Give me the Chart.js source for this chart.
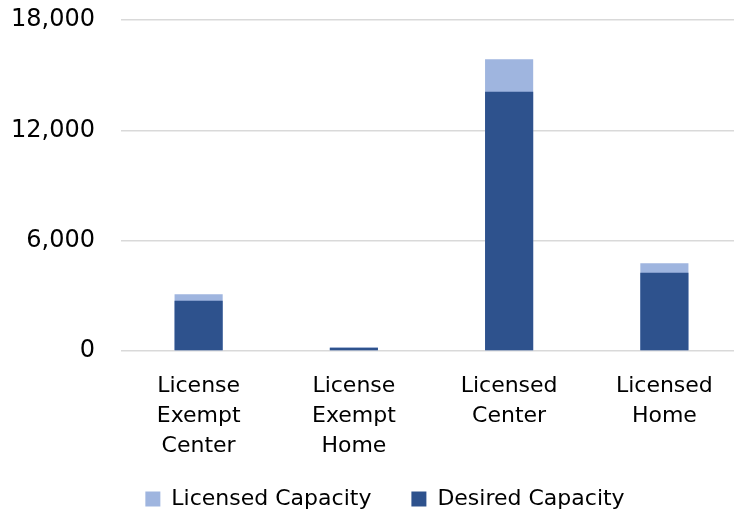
<!DOCTYPE html>
<html>
<head>
<meta charset="utf-8">
<script src="https://cdn.jsdelivr.net/npm/chart.js@4/dist/chart.umd.min.js"></script>
<style>
  html, body { margin: 0; padding: 0; background: #fff; overflow: hidden; }
  #wrap { width: 742px; height: 517px; }
</style>
</head>
<body>
<div id="wrap"><canvas id="chart"></canvas></div>
<script>
// Provider categories (split into display lines)
const categories = [
  ['License', 'Exempt', 'Center'],
  ['License', 'Exempt', 'Home'],
  ['Licensed', 'Center'],
  ['Licensed', 'Home']
];

// Capacity per provider type
const licensedCapacity = [3080, 195, 15860, 4770];
const desiredCapacity  = [2735, 180, 14100, 4260];

// Value axis ticks
const yTicks = [0, 6000, 12000, 18000];

const LIGHT = '#9fb5df';
const DARK  = '#2e528d';
const FONT  = 'DejaVu Sans';

// Give the legend a fixed height, then widen its box upward and shift it right
const legendFit = {
  id: 'legendFit',
  beforeLayout(chart, args, opts) {
    const lg = chart.legend;
    if (lg && !lg._fixedFit) {
      const fit = lg.fit.bind(lg);
      lg.fit = function () { fit(); this.height = opts.height; };
      lg._fixedFit = true;
    }
  },
  afterLayout(chart, args, opts) {
    const lg = chart.legend;
    if (lg) {
      lg.left += opts.dx; lg.right += opts.dx;
      lg.top += opts.dTop;
      lg.height = lg.bottom - lg.top;
    }
  }
};

new Chart(document.getElementById('chart'), {
  type: 'bar',
  data: {
    labels: categories,
    datasets: [
      {
        label: 'Licensed Capacity',
        data: licensedCapacity,
        backgroundColor: LIGHT,
        grouped: false,
        order: 2,
        barPercentage: 0.31,
        categoryPercentage: 1
      },
      {
        label: 'Desired Capacity',
        data: desiredCapacity,
        backgroundColor: DARK,
        grouped: false,
        order: 1,
        barPercentage: 0.31,
        categoryPercentage: 1
      }
    ]
  },
  plugins: [legendFit],
  options: {
    responsive: true,
    maintainAspectRatio: false,
    animation: false,
    layout: { padding: { top: 20, right: 0, bottom: 0, left: 0 } },
    scales: {
      x: {
        grid: { display: false, drawTicks: false },
        border: { display: false },
        afterFit(scale) { scale.height = 110; },
        ticks: {
          color: '#000',
          font: { family: FONT, size: 22, lineHeight: 1.36 },
          padding: 20,
          maxRotation: 0,
          autoSkip: false
        }
      },
      y: {
        min: 0,
        max: 18000,
        afterBuildTicks(scale) { scale.ticks = yTicks.map(v => ({ value: v })); },
        afterFit(scale) {
          scale.width = 121;
          scale.paddingTop = 0;
          scale.paddingBottom = 0;
        },
        grid: { color: '#d9d9d9', lineWidth: 1.5, drawTicks: false },
        border: { display: false },
        ticks: {
          color: '#000',
          padding: 26,
          font: { family: FONT, size: 24 },
          callback: v => v.toLocaleString('en-US')
        }
      }
    },
    plugins: {
      legendFit: { height: 56, dx: 14, dTop: -13 },
      tooltip: { enabled: false },
      legend: {
        position: 'bottom',
        labels: {
          color: '#000',
          font: { family: FONT, size: 22 },
          boxWidth: 15,
          boxHeight: 15,
          padding: 40,
          sort: (a, b) => a.datasetIndex - b.datasetIndex
        }
      }
    }
  }
});
</script>
</body>
</html>
